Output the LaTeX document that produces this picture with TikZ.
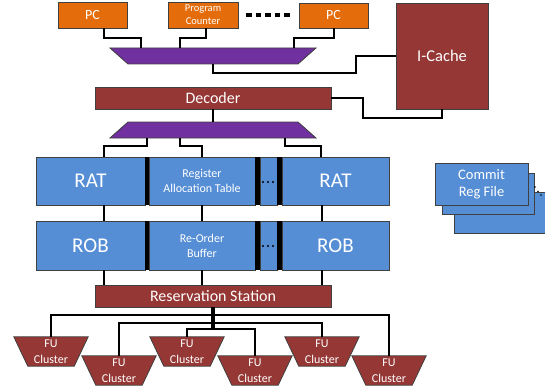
\documentclass[tikz,border=0pt]{standalone}
\usepackage{fontspec}
\setmainfont{Carlito}
\definecolor{pcorange}{HTML}{E46C0A}
\definecolor{muxpurple}{HTML}{7030A0}
\definecolor{darkred}{HTML}{953735}
\definecolor{regblue}{HTML}{558ED5}
\pgfdeclarelayer{background}
\pgfsetlayers{background,main}
\tikzset{
  box/.style={draw=black!75, line width=0.8pt, inner sep=0pt, text=white, align=center},
  pcbox/.style={box, fill=pcorange, minimum height=26pt, font=\fontsize{14}{16}\selectfont},
  redbox/.style={box, fill=darkred},
  bluebox/.style={box, fill=regblue},
  bigtxt/.style={font=\fontsize{21}{23}\selectfont},
  smalltxt/.style={font=\fontsize{12}{15}\selectfont},
  futxt/.style={inner sep=0pt, text=white, align=center, minimum width=74pt, minimum height=29pt, font=\fontsize{12}{16}\selectfont},
  wire/.style={line width=2pt, black},
  mux/.style={fill=muxpurple, draw=black!75, line width=0.8pt},
  fushape/.style={fill=darkred, draw=black!75, line width=0.8pt},
  bar/.style={fill=black, draw=none},
}
\begin{document}
\begin{tikzpicture}[x=1pt,y=-1pt]
\useasboundingbox (0,0) rectangle (545,385);
\clip (0,0) rectangle (545,385);

% PCs
\node[pcbox, minimum width=69pt] (pc1) at (92.5,15) {PC};
\node[pcbox, minimum width=70pt, font=\fontsize{10.5}{12.7}\selectfont] (pcc) at (203,15) {Program\\Counter};
\node[pcbox, minimum width=69pt, minimum height=25pt] (pc3) at (333.5,15.5) {PC};
\foreach \i in {0,...,4} \fill (246+\i*9.6,13) rectangle ++(5.6,4.5);

% I-Cache
\node[redbox, minimum width=92pt, minimum height=106pt, font=\fontsize{16.5}{19}\selectfont] (icache) at (442,56) {I-Cache};

% Mux 1
\filldraw[mux] (110,48) -- (316,48) -- (298,64) -- (128,64) -- cycle;
\coordinate (m1i1) at (141,48);
\coordinate (m1i2) at (180,48);
\coordinate (m1i3) at (294,48);
\coordinate (m1o) at (213,64);

% Decoder
\node[redbox, minimum width=236pt, minimum height=22pt, font=\fontsize{16}{18}\selectfont] (dec) at (213,98) {Decoder};

% Mux 2
\filldraw[mux] (128,122) -- (298,122) -- (316,138) -- (110,138) -- cycle;
\coordinate (m2i) at (213,122);
\coordinate (m2o1) at (147,138);
\coordinate (m2o2) at (180,138);
\coordinate (m2o3) at (285,138);

% RAT row
\node[bluebox, bigtxt, minimum width=109pt, minimum height=48pt] (rat1) at (90.5,181) {RAT};
\node[bluebox, smalltxt, minimum width=106pt, minimum height=48pt] (rat2) at (202,181) {Register\\Allocation Table};
\node[bluebox, minimum width=17pt, minimum height=48pt] (ratd) at (268.5,181) {};
\node[bluebox, bigtxt, minimum width=107pt, minimum height=48pt] (rat3) at (335.5,181) {RAT};
\fill[bar] (145,157) rectangle (149,205);
\fill[bar] (255,157) rectangle (260,205);
\fill[bar] (277,157) rectangle (282,205);
\foreach \x in {263,268,273} \fill (\x,182) circle (1.2);

% ROB row
\node[bluebox, bigtxt, minimum width=109pt, minimum height=49pt] (rob1) at (90.5,245.5) {ROB};
\node[bluebox, smalltxt, minimum width=106pt, minimum height=49pt] (rob2) at (202,245.5) {Re-Order\\Buffer};
\node[bluebox, minimum width=17pt, minimum height=49pt] (robd) at (268.5,245.5) {};
\node[bluebox, bigtxt, minimum width=107pt, minimum height=49pt] (rob3) at (335.5,245.5) {ROB};
\fill[bar] (145,221) rectangle (149,270);
\fill[bar] (255,221) rectangle (260,270);
\fill[bar] (277,221) rectangle (282,270);
\foreach \x in {263,268,273} \fill (\x,246) circle (1.2);

% Reservation station
\node[redbox, minimum width=236pt, minimum height=22pt, font=\fontsize{16}{18}\selectfont] (rs) at (213,296) {Reservation Station};

% Commit Reg File
\node[bluebox, minimum width=106pt, minimum height=41pt] (crf3) at (507,212.5) {};
\node[bluebox, minimum width=92pt, minimum height=41pt] (crf2) at (488,193.5) {};
\node[bluebox, minimum width=93pt, minimum height=42pt, font=\fontsize{14.5}{17}\selectfont] (crf) at (481.5,184) {Commit\\Reg File};
\foreach \p in {(535,187),(538,191.5),(541,195)} \fill \p circle (0.8);

% FU clusters
\node[futxt] (fu1) at (51,351.5) {FU\\Cluster};
\node[futxt] (fu2) at (119,370.5) {FU\\Cluster};
\node[futxt] (fu3) at (187,351.5) {FU\\Cluster};
\node[futxt] (fu4) at (255,370.5) {FU\\Cluster};
\node[futxt] (fu5) at (322,351.5) {FU\\Cluster};
\node[futxt] (fu6) at (389,370.5) {FU\\Cluster};
\begin{pgfonlayer}{background}
\foreach \f in {fu1,fu2,fu3,fu4,fu5,fu6}
  \filldraw[fushape] (\f.north west) -- (\f.north east) -- ([xshift=-14pt]\f.south east) -- ([xshift=14pt]\f.south west) -- cycle;
\end{pgfonlayer}

% Wires
\draw[wire] ([xshift=11.5pt]pc1.south) -- ++(0,10) -| (m1i1);
\draw[wire] ([xshift=3pt]pcc.south) -- ++(0,10) -| (m1i2);
\draw[wire] (pc3.south) -- ++(0,10) -| (m1i3);
\draw[wire] (m1o) -- ++(0,9) -| ([xshift=-40pt]icache.west) -- (icache.west);
\draw[wire] (dec.east) -- ++(32,0) |- ([yshift=-9pt]icache.south) -- (icache.south);
\draw[wire] (dec.south) -- (m2i);
\draw[wire] (m2o1) -- ++(0,8) -| ([xshift=13.5pt]rat1.north);
\draw[wire] (m2o2) -- ++(0,8) -| (rat2.north);
\draw[wire] (m2o3) -- ++(0,8) -| ([xshift=-15pt]rat3.north);
\draw[wire] ([xshift=13.5pt]rat1.south) -- ([xshift=13.5pt]rob1.north);
\draw[wire] (rat2.south) -- (rob2.north);
\draw[wire] ([xshift=-13.5pt]rat3.south) -- ([xshift=-13.5pt]rob3.north);
\draw[wire] ([xshift=13.5pt]rob1.south) -- ++(0,15);
\draw[wire] (rob2.south) -- ++(0,15);
\draw[wire] ([xshift=-13.5pt]rob3.south) -- ++(0,15);
\draw[line width=4pt] (rs.south) -- ++(0,22);
\draw[wire] (rs.south) -- ++(0,8) -| (fu1.north);
\draw[wire] (rs.south) -- ++(0,8) -| (fu6.north);
\draw[wire] (rs.south) -- ++(0,16) -| (fu2.north);
\draw[wire] (rs.south) -- ++(0,16) -| (fu5.north);
\draw[wire] (rs.south) -- ++(0,22) -| (fu3.north);
\draw[wire] (rs.south) -- ++(0,22) -| (fu4.north);
\end{tikzpicture}
\end{document}
